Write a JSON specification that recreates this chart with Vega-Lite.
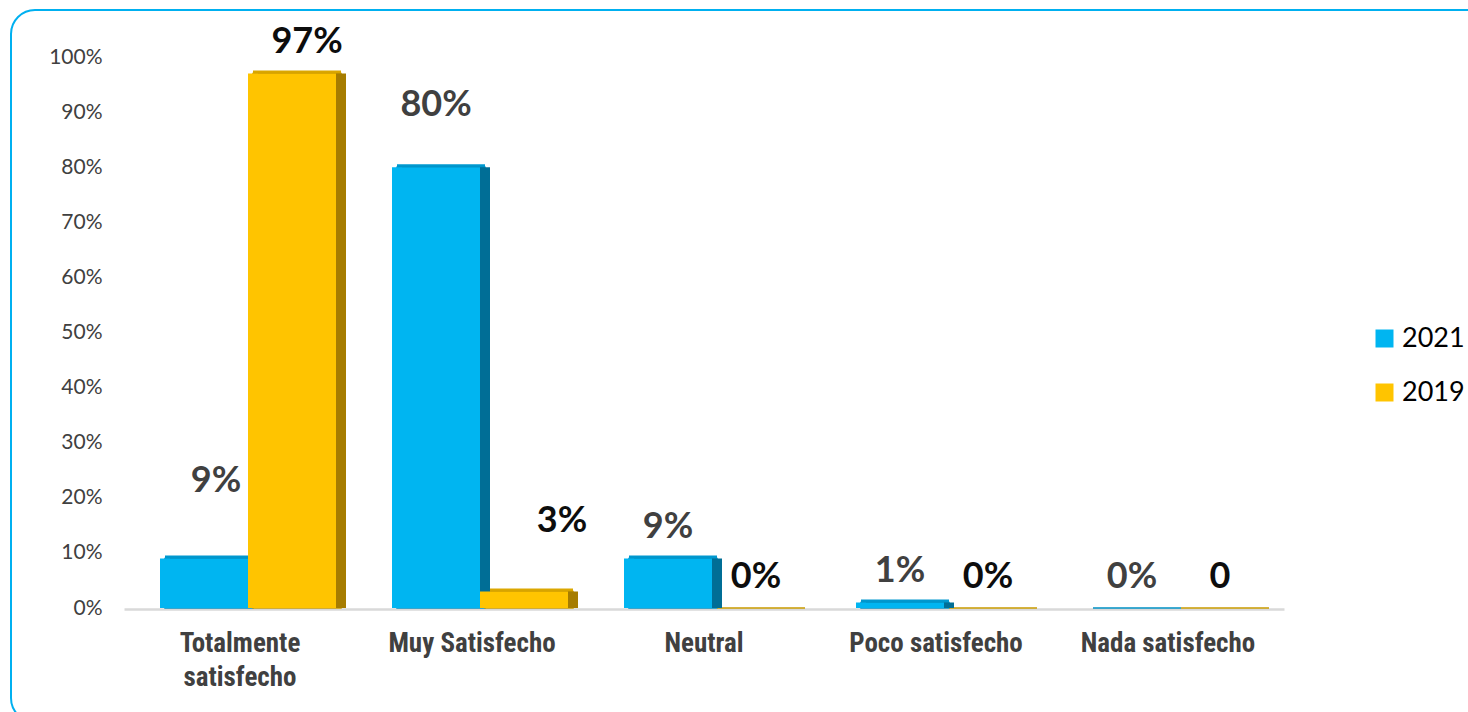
{
  "$schema": "https://vega.github.io/schema/vega-lite/v6.json",
  "width": 1480,
  "height": 712,
  "autosize": {"type": "none"},
  "padding": {"left": 11, "top": 10, "right": 0, "bottom": 0},
  "background": "white",
  "config": {"view": {"stroke": "#00B0F0", "strokeWidth": 2, "cornerRadius": 24}, "font": "Lato"},
  "data": {"values": [
    {"category": "Totalmente satisfecho", "year": "2021", "value": 0.09, "label": "9%"},
    {"category": "Totalmente satisfecho", "year": "2019", "value": 0.97, "label": "97%"},
    {"category": "Muy Satisfecho", "year": "2021", "value": 0.80, "label": "80%"},
    {"category": "Muy Satisfecho", "year": "2019", "value": 0.03, "label": "3%"},
    {"category": "Neutral", "year": "2021", "value": 0.09, "label": "9%"},
    {"category": "Neutral", "year": "2019", "value": 0, "label": "0%"},
    {"category": "Poco satisfecho", "year": "2021", "value": 0.01, "label": "1%"},
    {"category": "Poco satisfecho", "year": "2019", "value": 0, "label": "0%"},
    {"category": "Nada satisfecho", "year": "2021", "value": 0, "label": "0%"},
    {"category": "Nada satisfecho", "year": "2019", "value": 0, "label": "0"}
  ]},
  "resolve": {"scale": {"xOffset": "independent"}},
  "encoding": {
    "x": {
      "field": "category", "type": "nominal", "sort": null,
      "scale": {"type": "band", "range": [113, 1273], "paddingInner": 0.2414, "paddingOuter": 0.1207},
      "axis": {
        "title": null, "orient": "bottom", "offset": -113,
        "domainColor": "#D9D9D9", "domainWidth": 2.5, "ticks": false, "labelAngle": 0,
        "labelFont": "Roboto Condensed, DejaVu Sans Condensed, Liberation Sans", "labelFontWeight": "bold", "labelFontSize": 27,
        "labelColor": "#404040", "labelPadding": 21, "labelLineHeight": 34, "labelLimit": 400,
        "labelExpr": "datum.label == 'Totalmente satisfecho' ? ['Totalmente', 'satisfecho'] : datum.label"
      }
    },
    "xOffset": {"field": "year", "type": "nominal", "sort": ["2021", "2019"], "scale": {"type": "band", "domain": ["2021", "2019"], "range": [8, 184], "paddingInner": 0, "paddingOuter": 0}},
    "y": {
      "field": "value", "type": "quantitative",
      "scale": {"domain": [0, 1], "range": [598, 47]},
      "axis": {
        "title": null, "values": [0, 0.1, 0.2, 0.3, 0.4, 0.5, 0.6, 0.7, 0.8, 0.9, 1], "format": ".0%",
        "domain": false, "ticks": false, "grid": false, "labelFont": "Lato", "labelFontSize": 21,
        "labelColor": "#404040", "labelPadding": 0, "offset": -91
      }
    }
  },
  "layer": [
    {
      "mark": {"type": "bar", "yOffset": -3, "y2Offset": -3},
      "encoding": {
        "xOffset": {"field": "year", "type": "nominal", "sort": ["2021", "2019"], "scale": {"type": "band", "domain": ["2021", "2019"], "range": [13, 189], "paddingInner": 0, "paddingOuter": 0}},
        "color": {"condition": {"test": "datum.year == '2021'", "value": "#0098CF"}, "value": "#DBA700"}
      }
    },
    {
      "mark": {"type": "bar", "yOffset": 0, "y2Offset": -3, "strokeWidth": 1.5},
      "encoding": {
        "xOffset": {"field": "year", "type": "nominal", "sort": ["2021", "2019"], "scale": {"type": "band", "domain": ["2021", "2019"], "range": [13, 189], "paddingInner": 0, "paddingOuter": 0}},
        "color": {"condition": {"test": "datum.year == '2021'", "value": "#0090C4"}, "value": "#C99A00"},
        "stroke": {"condition": {"test": "datum.year == '2021'", "value": "#0090C4"}, "value": "#C99A00"}
      }
    },
    {
      "mark": {"type": "bar", "yOffset": 0, "y2Offset": -3},
      "encoding": {
        "xOffset": {"field": "year", "type": "nominal", "sort": ["2021", "2019"], "scale": {"type": "band", "domain": ["2021", "2019"], "range": [18, 194], "paddingInner": 0, "paddingOuter": 0}},
        "color": {"condition": {"test": "datum.year == '2021'", "value": "#006E96"}, "value": "#A67C00"}
      }
    },
    {
      "mark": {"type": "bar"},
      "encoding": {
        "color": {
          "field": "year", "type": "nominal",
          "scale": {"domain": ["2021", "2019"], "range": ["#00B5F1", "#FFC400"]},
          "legend": {
            "title": null, "orient": "none", "legendX": 1360, "legendY": 315, "direction": "vertical",
            "symbolType": "square", "symbolSize": 324, "symbolStrokeWidth": 0,
            "labelFont": "Lato", "labelFontSize": 27, "labelColor": "#000000",
            "rowPadding": 26, "padding": 0, "labelOffset": 4
          }
        }
      }
    },
    {
      "transform": [{"filter": "datum.category != 'Totalmente satisfecho' && datum.category != 'Muy Satisfecho'"}],
      "mark": {"type": "text", "font": "Lato", "fontWeight": "bold", "fontSize": 36, "baseline": "alphabetic", "align": "center", "dy": -20},
      "encoding": {"text": {"field": "label"}, "color": {"condition": {"test": "datum.year == '2019'", "value": "#0D0D0D"}, "value": "#404040"}}
    },
    {
      "transform": [{"filter": "datum.category == 'Totalmente satisfecho' && datum.year == '2021'"}],
      "mark": {"type": "text", "font": "Lato", "fontWeight": "bold", "fontSize": 36, "baseline": "alphabetic", "align": "center", "dx": 12, "dy": -66},
      "encoding": {"text": {"field": "label"}, "color": {"value": "#404040"}}
    },
    {
      "transform": [{"filter": "datum.category == 'Totalmente satisfecho' && datum.year == '2019'"}],
      "mark": {"type": "text", "font": "Lato", "fontWeight": "bold", "fontSize": 36, "baseline": "alphabetic", "align": "center", "dx": 15, "dy": -21},
      "encoding": {"text": {"field": "label"}, "color": {"value": "#0D0D0D"}}
    },
    {
      "transform": [{"filter": "datum.category == 'Muy Satisfecho' && datum.year == '2021'"}],
      "mark": {"type": "text", "font": "Lato", "fontWeight": "bold", "fontSize": 36, "baseline": "alphabetic", "align": "center", "dy": -51},
      "encoding": {"text": {"field": "label"}, "color": {"value": "#404040"}}
    },
    {
      "transform": [{"filter": "datum.category == 'Muy Satisfecho' && datum.year == '2019'"}],
      "mark": {"type": "text", "font": "Lato", "fontWeight": "bold", "fontSize": 36, "baseline": "alphabetic", "align": "center", "dx": 38, "dy": -59},
      "encoding": {"text": {"field": "label"}, "color": {"value": "#0D0D0D"}}
    }
  ]
}
